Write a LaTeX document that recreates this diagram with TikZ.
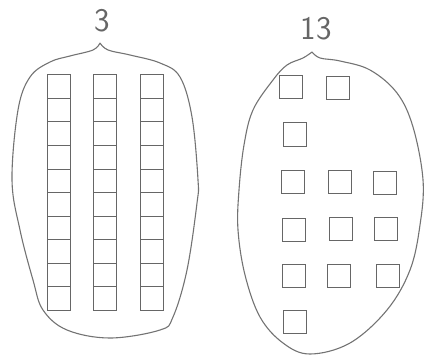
\documentclass[tikz,border=0pt]{standalone}
\usepackage{tikz}
\usetikzlibrary{positioning}
\tikzset{
  pencil/.style={draw=black!55, line width=1.1pt, line join=round, line cap=round},
  cellbox/.style={draw=black!60, line width=1pt},
  setlabel/.style={text=black!60, inner sep=0pt, font=\sffamily\fontsize{33}{33}\selectfont},
}

\begin{document}
\begin{tikzpicture}[x=1pt,y=-1pt]
\useasboundingbox (0,0) rectangle (427,358);
% left set: three rods of ten
\draw[pencil] plot[smooth, tension=0.6] coordinates {(100,43) (93,50) (70,56) (50,62) (30,77) (18,110) (12,180) (20,230) (33,280) (43,310) (67,330) (110,338) (160,330) (173,317) (187,270) (197,203) (198,180) (192,117) (180,77) (160,63) (130,55) (108,50) (100,43)};
\node[setlabel] (three) at (102,21) {3};
\foreach \cx in {47,93,140} {
  \draw[cellbox] (\cx,75) rectangle ++(23,235);
  \foreach \k in {1,...,9}
    \draw[cellbox] (\cx,75+23.5*\k) -- ++(23,0);
}
% right set: thirteen ones
\draw[pencil] plot[smooth, tension=0.6] coordinates {(312,52) (303,58) (287,65) (273,80) (253,110) (244,145) (239,190) (238,230) (245,275) (260,317) (283,343) (310,354) (350,343) (387,310) (410,270) (420,225) (423,180) (413,127) (397,93) (370,70) (340,61) (320,58) (312,52)};
\node[setlabel] (thirteen) at (316,29) {13};
\foreach \cx/\cy in {279/76, 326/77, 283/123,
                     281/170, 328/170, 373/171,
                     282/218, 329/217, 374/217,
                     282/264, 327/264, 376/264,
                     283/310} {
  \draw[cellbox] (\cx,\cy) rectangle ++(23,23);
}
\end{tikzpicture}
\end{document}
